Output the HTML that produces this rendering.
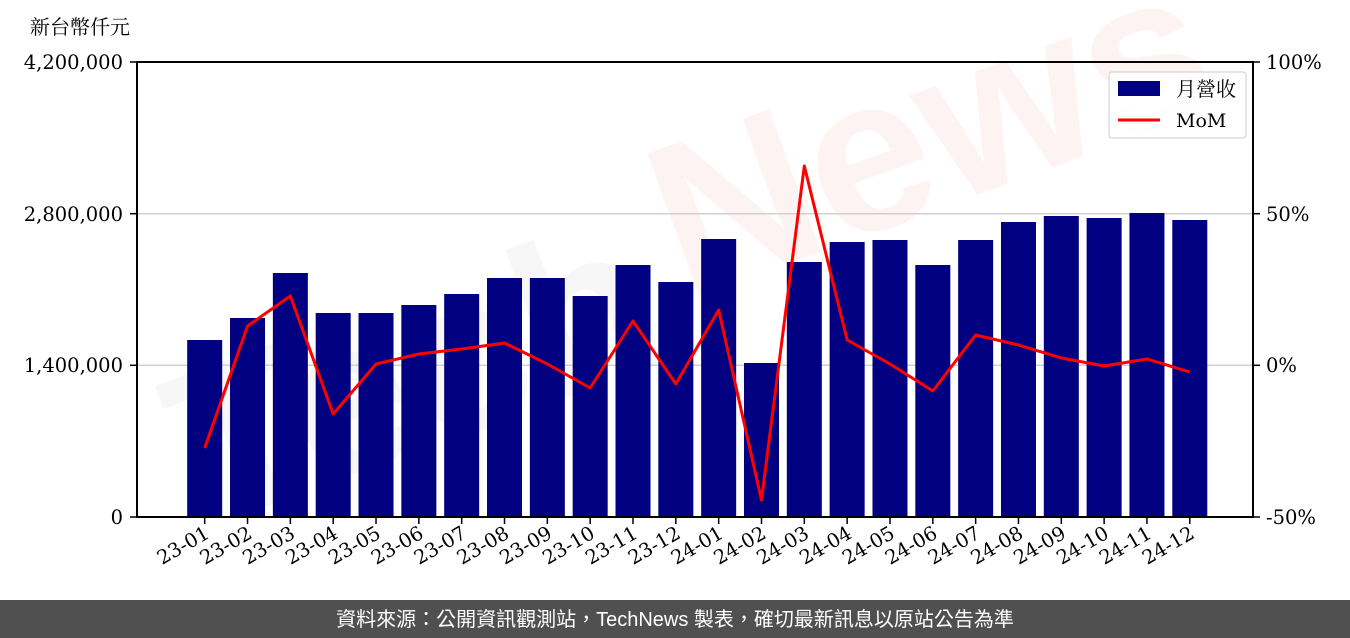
<!DOCTYPE html>
<html><head><meta charset="utf-8"><style>
html,body{margin:0;padding:0;background:#fff;}
svg{display:block;}
</style></head><body>
<svg width="1350" height="638" xmlns="http://www.w3.org/2000/svg" font-family="'DejaVu Serif','Noto Serif CJK SC',serif">
<rect width="1350" height="638" fill="#fff"/>
<!-- watermark -->
<g opacity="0.06">
<text x="150" y="380" font-family="'Liberation Sans',sans-serif" font-weight="bold" font-size="220" transform="rotate(-20 600 300)" fill="#777">Tech</text>
<text x="680" y="330" font-family="'Liberation Sans',sans-serif" font-weight="bold" font-size="220" transform="rotate(-20 600 300)" fill="#d33">News</text>
</g>
<text x="30" y="34" font-size="20" font-family="'Noto Serif CJK TC','Noto Serif CJK SC',serif">新台幣仟元</text>
<!-- grid -->
<g stroke="#d0d0d0" stroke-width="1.5">
<line x1="137" y1="213.7" x2="1253" y2="213.7"/>
<line x1="137" y1="365.3" x2="1253" y2="365.3"/>
</g>
<g id="bars" fill="#000080"></g>
<polyline id="mom" fill="none" stroke="#ff0000" stroke-width="3" stroke-linejoin="round"/>
<rect x="137" y="62" width="1116" height="455" fill="none" stroke="#000" stroke-width="2"/>
<g font-size="19.5" text-anchor="end">
<text x="123" y="524">0</text>
<text x="123" y="372">1,400,000</text>
<text x="123" y="221">2,800,000</text>
<text x="123" y="69">4,200,000</text>
</g>
<g stroke="#000" stroke-width="1.5">
<line x1="130" y1="517" x2="137" y2="517"/><line x1="130" y1="365.3" x2="137" y2="365.3"/>
<line x1="130" y1="213.7" x2="137" y2="213.7"/><line x1="130" y1="62" x2="137" y2="62"/>
<line x1="1253" y1="517" x2="1260" y2="517"/><line x1="1253" y1="365.3" x2="1260" y2="365.3"/>
<line x1="1253" y1="213.7" x2="1260" y2="213.7"/><line x1="1253" y1="62" x2="1260" y2="62"/>
</g>
<g font-size="19.5">
<text x="1266" y="524">-50%</text>
<text x="1266" y="372">0%</text>
<text x="1266" y="221">50%</text>
<text x="1266" y="69">100%</text>
</g>
<g id="xt"></g>
<!-- legend -->
<rect x="1109" y="72" width="137" height="66" fill="#fff" fill-opacity="0.85" stroke="#ccc" rx="3"/>
<rect x="1118" y="81" width="42" height="15" fill="#000080"/>
<text x="1176" y="96" font-size="20" font-family="'Noto Serif CJK TC','Noto Serif CJK SC',serif">月營收</text>
<line x1="1118" y1="120" x2="1160" y2="120" stroke="#f00" stroke-width="3"/>
<text x="1176" y="127" font-size="19">MoM</text>
<!-- footer -->
<rect x="0" y="600" width="1350" height="38" fill="#505050"/>
<text x="675" y="626" font-size="20" fill="#fff" text-anchor="middle" font-family="'Liberation Sans','Noto Sans CJK TC',sans-serif">資料來源：公開資訊觀測站，TechNews 製表，確切最新訊息以原站公告為準</text>
<script>
var tops=[340,318,273,313,313,305,294,278,278,296,265,282,239,363,262,242,240,265,240,222,216,218,213,220];
var mom=[448,326,296,414,364,354,349,343,364,388,321,384,310,500,166,340,364,391,335,345,358,366,359,372];
var labs=[];for(var y of [23,24])for(var m=1;m<=12;m++)labs.push(y+'-'+(m<10?'0':'')+m);
var ns='http://www.w3.org/2000/svg',b=document.getElementById('bars'),xt=document.getElementById('xt'),pts=[];
for(var i=0;i<24;i++){var cx=204.7+i*42.83;
var r=document.createElementNS(ns,'rect');r.setAttribute('x',cx-17.5);r.setAttribute('y',tops[i]);r.setAttribute('width',35);r.setAttribute('height',517-tops[i]);b.appendChild(r);
pts.push(cx+','+mom[i]);
var l=document.createElementNS(ns,'line');l.setAttribute('x1',cx);l.setAttribute('x2',cx);l.setAttribute('y1',517);l.setAttribute('y2',524);l.setAttribute('stroke','#000');l.setAttribute('stroke-width','1.5');xt.appendChild(l);
var t=document.createElementNS(ns,'text');t.setAttribute('x',cx+6);t.setAttribute('y',537);t.setAttribute('font-size','19.5');t.setAttribute('text-anchor','end');t.setAttribute('transform','rotate(-30 '+(cx+6)+' 537)');t.textContent=labs[i];xt.appendChild(t);}
document.getElementById('mom').setAttribute('points',pts.join(' '));
</script>
</svg>
</body></html>
